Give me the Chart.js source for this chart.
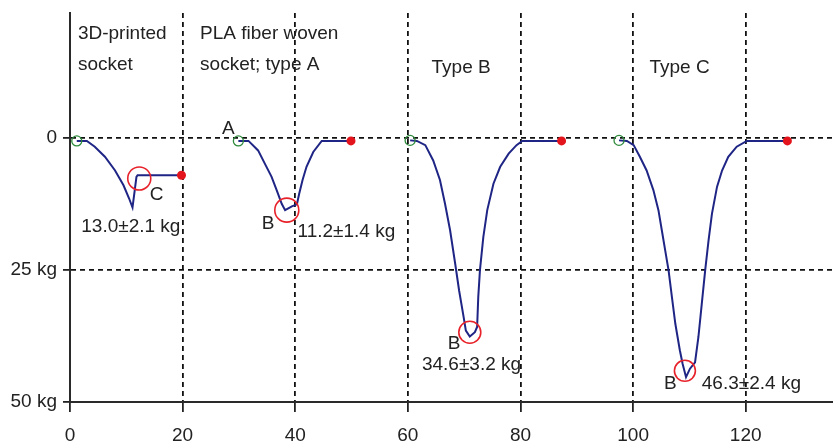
<!DOCTYPE html>
<html>
<head>
<meta charset="utf-8">
<script src="https://cdn.jsdelivr.net/npm/chart.js@4.4.1/dist/chart.umd.min.js"></script>
<style>
  body { margin: 0; background: #fff; }
  #wrap { width: 833px; height: 443px; }
</style>
</head>
<body>
<div id="wrap"><canvas id="graphCanvas" width="833" height="443"></canvas></div>
<script>
// ------------------ DATA ------------------
// load curves (x = time, y = load in kg), one per socket
const printedX = [1.2, 3.0, 4.4, 6.2, 8.0, 9.5, 10.5, 11.1, 11.5, 11.8, 12.0, 19.8];
const printedY = [0.6, 0.6, 1.7, 3.6, 6.2, 9.0, 11.5, 13.2, 9.9, 7.4, 7.1, 7.1];

const typeAX = [29.9, 31.7, 33.4, 34.6, 35.8, 36.7, 37.6, 38.2, 39.4, 40.3, 40.7, 41.3, 42.0, 43.2, 44.7, 49.9];
const typeAY = [0.6, 0.6, 2.4, 4.9, 7.4, 9.9, 12.5, 13.7, 13.0, 12.6, 10.6, 8.0, 5.5, 2.7, 0.6, 0.6];

const typeBX = [60.4, 61.6, 63.1, 64.5, 65.7, 66.6, 67.5, 68.4, 69.1, 69.9, 70.3, 71.0, 71.9, 72.3, 72.5, 72.8, 73.4, 74.1, 75.2, 76.4, 77.9, 79.3, 80.3, 87.3];
const typeBY = [0.5, 0.6, 1.4, 4.3, 8.0, 12.5, 17.5, 23.8, 28.9, 33.9, 36.5, 37.6, 36.8, 35.8, 30.2, 25.1, 18.8, 13.7, 8.7, 5.5, 3.0, 1.4, 0.6, 0.6];

const typeCX = [97.5, 98.9, 100.1, 101.2, 102.4, 103.6, 104.5, 105.1, 105.7, 106.3, 106.9, 107.5, 108.3, 108.8, 109.4, 110.1, 111.0, 111.6, 112.2, 112.8, 113.4, 114.0, 114.9, 115.8, 116.9, 118.4, 120.2, 127.4];
const typeCY = [0.5, 0.6, 1.4, 3.6, 6.2, 9.9, 13.7, 17.5, 21.3, 25.1, 30.2, 35.2, 40.2, 42.8, 45.3, 43.7, 42.5, 37.7, 31.4, 25.1, 19.4, 14.4, 9.3, 6.2, 3.6, 1.7, 0.6, 0.6];

// circled points (C on the printed socket, B on the others)
const peakX = [12.3, 38.5, 71.0, 109.2];
const peakY = [7.7, 13.7, 36.8, 44.1];

// axis ticks
const xTicks = [0, 20, 40, 60, 80, 100, 120];
const yTicks = [0, 25, 50];
const yTickLabels = ['0', '25 kg', '50 kg'];

// text on the plot, anchored in data units
const notes = [
    { text: '3D-printed', x: 1.4, y: -18.6, align: 'left' },
    { text: 'socket', x: 1.4, y: -12.9, align: 'left' },
    { text: 'PLA fiber woven', x: 23.1, y: -18.6, align: 'left' },
    { text: 'socket; type A', x: 23.1, y: -12.9, align: 'left' },
    { text: 'Type B', x: 64.2, y: -12.2, align: 'left' },
    { text: 'Type C', x: 102.9, y: -12.2, align: 'left' },
    { text: 'A', x: 28.1, y: -0.8, align: 'center' },
    { text: 'C', x: 15.4, y: 11.7, align: 'center' },
    { text: '13.0±2.1 kg', x: 2.0, y: 17.8, align: 'left' },
    { text: 'B', x: 35.2, y: 17.2, align: 'center' },
    { text: '11.2±1.4 kg', x: 40.4, y: 18.8, align: 'left' },
    { text: 'B', x: 68.2, y: 39.9, align: 'center' },
    { text: '34.6±3.2 kg', x: 62.5, y: 44.0, align: 'left' },
    { text: 'B', x: 106.6, y: 47.5, align: 'center' },
    { text: '46.3±2.4 kg', x: 112.2, y: 47.5, align: 'left' }
];

// ------------------ SETUP ------------------
const FONT = '"Liberation Sans", Arial, Helvetica, sans-serif';
const curves = [[printedX, printedY], [typeAX, typeAY], [typeBX, typeBY], [typeCX, typeCY]];
const toPts = (xs, ys) => xs.map((v, i) => ({ x: v, y: ys[i] }));

const datasets = curves.map(c => ({
    data: toPts(c[0], c[1]),
    showLine: true,
    borderColor: '#1f2585',
    borderWidth: 2,
    pointRadius: 0,
    tension: 0,
    order: 3
}));

// start markers (open green) and end markers (red)
datasets.push({
    data: curves.map(c => ({ x: c[0][0], y: c[1][0] })),
    pointRadius: 5,
    pointBorderWidth: 1.3,
    pointBorderColor: '#2e8b3c',
    pointBackgroundColor: 'rgba(0,0,0,0)',
    order: 1
});
datasets.push({
    data: curves.map(c => ({ x: c[0][c[0].length - 1], y: c[1][c[1].length - 1] })),
    pointRadius: 4.5,
    pointBorderWidth: 0,
    pointBackgroundColor: '#e3141c',
    order: 1
});
datasets.push({
    data: toPts(peakX, peakY),
    pointRadius: [11.5, 12, 11, 10.5],
    pointBorderWidth: 1.6,
    pointBorderColor: '#e8222a',
    pointBackgroundColor: 'rgba(0,0,0,0)',
    order: 1
});

const notesPlugin = {
    id: 'notes',
    afterDatasetsDraw(chart) {
        const { ctx, scales: { x, y } } = chart;
        ctx.save();
        ctx.font = '19px ' + FONT;
        ctx.fillStyle = '#222';
        ctx.textBaseline = 'alphabetic';
        notes.forEach(n => {
            ctx.textAlign = n.align;
            ctx.fillText(n.text, x.getPixelForValue(n.x), y.getPixelForValue(n.y));
        });
        ctx.restore();
    }
};

// ------------------ CONFIG ------------------
const config = {
    type: 'scatter',
    data: { datasets },
    options: {
        responsive: false,
        animation: false,
        layout: { autoPadding: false, padding: { top: 13, right: 0, left: 0, bottom: 0 } },
        plugins: { legend: { display: false }, tooltip: { enabled: false } },
        scales: {
            x: {
                type: 'linear',
                min: 0,
                max: 135.5,
                afterBuildTicks: s => { s.ticks = xTicks.map(v => ({ value: v })); },
                afterFit: s => { s.height = 41; s.paddingLeft = 0; s.paddingRight = 0; },
                grid: { color: '#111', lineWidth: 1.8, tickLength: 10, tickColor: '#222', tickWidth: 1.8, tickBorderDash: [] },
                border: { display: true, color: '#2a2a2a', width: 2, dash: [5, 4] },
                ticks: { color: '#222', font: { family: FONT, size: 19 }, padding: 12, maxRotation: 0 }
            },
            y: {
                type: 'linear',
                reverse: true,
                min: -23.6,
                max: 50,
                afterBuildTicks: s => { s.ticks = yTicks.map(v => ({ value: v })); },
                afterFit: s => { s.width = 70; s.paddingTop = 0; s.paddingBottom = 0; },
                grid: { color: '#111', lineWidth: 1.8, tickLength: 7, tickColor: '#222', tickWidth: 1.8, tickBorderDash: [] },
                border: { display: true, color: '#2a2a2a', width: 2, dash: [5, 4] },
                ticks: {
                    color: '#222',
                    font: { family: FONT, size: 19 },
                    padding: 6,
                    callback: (v) => yTickLabels[yTicks.indexOf(v)]
                }
            }
        }
    },
    plugins: [notesPlugin]
};

// ------------------ RENDER ------------------
const graphCanvas = new Chart(document.getElementById('graphCanvas').getContext('2d'), config);
</script>
</body>
</html>
